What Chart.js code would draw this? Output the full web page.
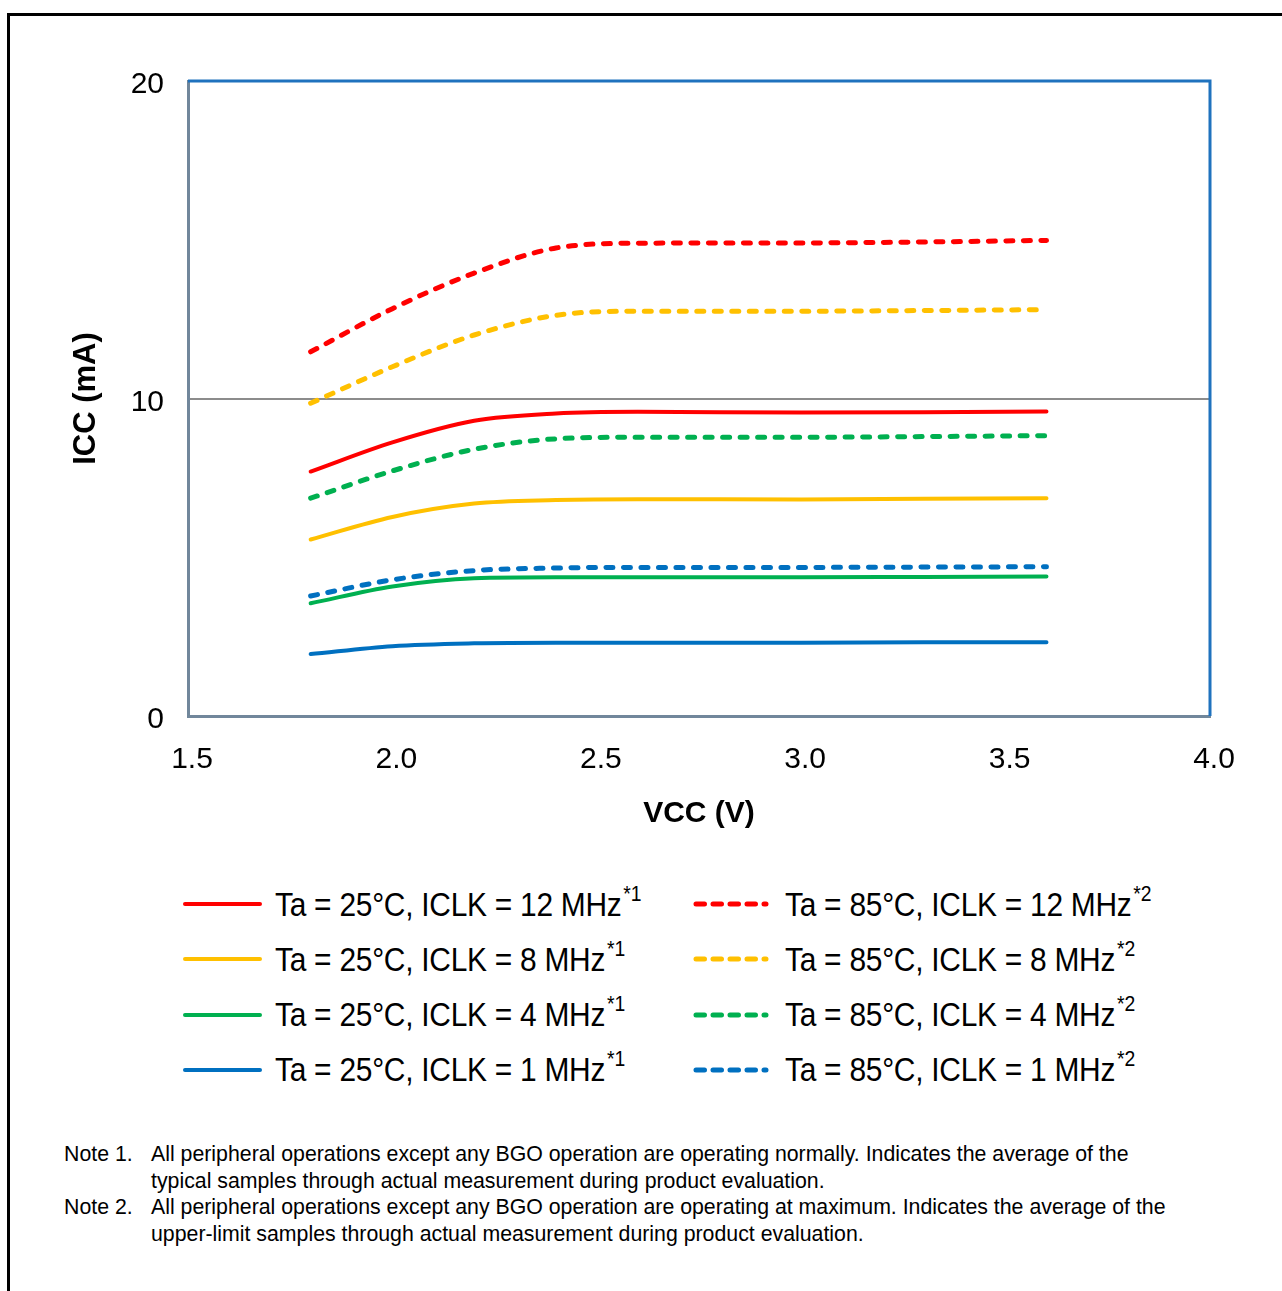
<!DOCTYPE html>
<html>
<head>
<meta charset="utf-8">
<script src="https://cdn.jsdelivr.net/npm/chart.js@4.4.0/dist/chart.umd.min.js"></script>
<style>
    body { margin: 0; background: #fff; font-family: "Liberation Sans", Arial, sans-serif; color: #000; }
    #page { position: relative; width: 1282px; height: 1291px; overflow: hidden; }
    #frame { position: absolute; left: 7px; top: 13px; width: 1300px; height: 1300px;
             border-top: 3px solid #000; border-left: 3px solid #000; }
    #chartBox { position: absolute; left: 0; top: 0; width: 1282px; height: 860px; }
    #legend { position: absolute; left: 0; top: 876px; width: 1282px; }
    .row { position: absolute; height: 56px; display: flex; align-items: center; white-space: nowrap; }
    .row canvas { margin-right: 11px; }
    .row .txt { display: inline-block; font-size: 34px; letter-spacing: -0.3px;
                transform: scaleX(0.88); transform-origin: left center; }
    .row sup { font-size: 22px; letter-spacing: 0; vertical-align: baseline; position: relative; top: -15px; margin-left: 2px; }
    #notes { position: absolute; left: 64px; top: 1141px; font-size: 21.3px; line-height: 26.7px; }
    #notes .n { display: flex; }
    #notes .lab { width: 87px; flex: none; }
</style>
</head>
<body>
<div id="page">
    <div id="frame"></div>
    <div id="chartBox"><canvas id="iccChart" width="1282" height="860"></canvas></div>
    <div id="legend"></div>
    <div id="notes">
        <div class="n"><div class="lab">Note 1.</div><div>All peripheral operations except any BGO operation are operating normally. Indicates the average of the<br>typical samples through actual measurement during product evaluation.</div></div>
        <div class="n"><div class="lab">Note 2.</div><div>All peripheral operations except any BGO operation are operating at maximum. Indicates the average of the<br>upper-limit samples through actual measurement during product evaluation.</div></div>
    </div>
</div>
<script>
// VCC (V) sample points
const vcc = [1.8, 2.0, 2.2, 2.4, 2.6, 3.0, 3.3, 3.6];

// ICC (mA)
const icc25_12 = [7.70, 8.62, 9.30, 9.53, 9.58, 9.56, 9.57, 9.59];
const icc25_8 = [5.56, 6.27, 6.69, 6.80, 6.83, 6.82, 6.84, 6.86];
const icc25_4 = [3.55, 4.08, 4.34, 4.37, 4.37, 4.37, 4.38, 4.39];
const icc25_1 = [1.95, 2.20, 2.29, 2.31, 2.31, 2.31, 2.32, 2.32];
const icc85_12 = [11.47, 12.83, 13.95, 14.74, 14.89, 14.90, 14.93, 14.98];
const icc85_8 = [9.85, 11.00, 12.00, 12.62, 12.75, 12.75, 12.77, 12.80];
const icc85_4 = [6.86, 7.72, 8.40, 8.73, 8.78, 8.78, 8.80, 8.83];
const icc85_1 = [3.78, 4.29, 4.58, 4.66, 4.68, 4.68, 4.69, 4.70];

const seriesLabels = [
    'Ta = 25°C, ICLK = 12 MHz', 'Ta = 25°C, ICLK = 8 MHz', 'Ta = 25°C, ICLK = 4 MHz', 'Ta = 25°C, ICLK = 1 MHz',
    'Ta = 85°C, ICLK = 12 MHz', 'Ta = 85°C, ICLK = 8 MHz', 'Ta = 85°C, ICLK = 4 MHz', 'Ta = 85°C, ICLK = 1 MHz'
];
const seriesNotes = ['*1', '*1', '*1', '*1', '*2', '*2', '*2', '*2'];

const xTicks = [1.5, 2.0, 2.5, 3.0, 3.5, 4.0];
const xTickLabels = ['1.5', '2.0', '2.5', '3.0', '3.5', '4.0'];
const yTicks = [0, 10, 20];
const yTickLabels = ['0', '10', '20'];

const RED = '#ff0000', YELLOW = '#ffc000', GREEN = '#00b050', BLUE = '#0070c0';
const DASH = [7, 10.5];

function series(label, values, color, dashed) {
    return {
        label: label,
        data: values.map((v, i) => ({ x: vcc[i], y: v })),
        borderColor: color,
        backgroundColor: color,
        borderWidth: dashed ? 5 : 4,
        borderDash: dashed ? DASH : [],
        borderCapStyle: 'round',
        borderJoinStyle: 'round',
        cubicInterpolationMode: 'monotone',
        pointRadius: 0,
        fill: false
    };
}

const datasets = [
    series(seriesLabels[0], icc25_12, RED, false),
    series(seriesLabels[1], icc25_8, YELLOW, false),
    series(seriesLabels[2], icc25_4, GREEN, false),
    series(seriesLabels[3], icc25_1, BLUE, false),
    series(seriesLabels[4], icc85_12, RED, true),
    series(seriesLabels[5], icc85_8, YELLOW, true),
    series(seriesLabels[6], icc85_4, GREEN, true),
    series(seriesLabels[7], icc85_1, BLUE, true)
];

// blue top and right edges of the plot area
const plotFrame = {
    id: 'plotFrame',
    afterDraw(chart) {
        const { ctx, chartArea: a } = chart;
        ctx.save();
        ctx.strokeStyle = '#1f72be';
        ctx.lineWidth = 3;
        ctx.beginPath();
        ctx.moveTo(a.left, a.top);
        ctx.lineTo(a.right, a.top);
        ctx.lineTo(a.right, a.bottom);
        ctx.stroke();
        ctx.restore();
    }
};

const chart = new Chart(document.getElementById('iccChart'), {
    type: 'line',
    data: { datasets: datasets },
    plugins: [plotFrame],
    options: {
        responsive: false,
        animation: false,
        layout: { padding: { top: 81, right: 72, bottom: 0, left: 0 } },
        plugins: { legend: { display: false }, tooltip: { enabled: false } },
        scales: {
            x: {
                type: 'linear',
                min: 1.5,
                max: 4.0,
                afterFit: (s) => { s.height = 144; },
                afterBuildTicks: (s) => { s.ticks = xTicks.map(v => ({ value: v })); },
                grid: { display: false, drawTicks: false },
                border: { display: true, color: '#71879b', width: 3 },
                ticks: {
                    autoSkip: false,
                    maxRotation: 0,
                    padding: 26,
                    labelOffset: 4,
                    color: '#000',
                    font: { family: 'Liberation Sans, Arial', size: 30 },
                    callback: (v, i) => xTickLabels[i]
                },
                title: {
                    display: true,
                    text: 'VCC (V)',
                    color: '#000',
                    font: { family: 'Liberation Sans, Arial', size: 30, weight: 'bold' },
                    padding: { top: 0, bottom: 28 }
                }
            },
            y: {
                min: 0,
                max: 20,
                afterFit: (s) => { s.width = 188; },
                afterBuildTicks: (s) => { s.ticks = yTicks.map(v => ({ value: v })); },
                grid: {
                    drawTicks: false,
                    lineWidth: 2,
                    color: (c) => (c.tick && c.tick.value === 10) ? '#8c8c8c' : 'rgba(0,0,0,0)'
                },
                border: { display: true, color: '#71879b', width: 3 },
                ticks: {
                    padding: 24,
                    labelOffset: 4,
                    color: '#000',
                    font: { family: 'Liberation Sans, Arial', size: 30 },
                    callback: (v, i) => yTickLabels[i]
                },
                title: {
                    display: true,
                    text: 'ICC (mA)',
                    color: '#000',
                    font: { family: 'Liberation Sans, Arial', size: 31, weight: 'bold' },
                    padding: { top: 68, bottom: 0 }
                }
            }
        }
    }
});

// HTML legend built from the chart datasets
function renderLegend() {
    const box = document.getElementById('legend');
    const colLeft = [183, 693];
    const rowH = 55.3;
    chart.data.datasets.forEach((ds, i) => {
        const col = i < 4 ? 0 : 1;
        const row = i % 4;
        const div = document.createElement('div');
        div.className = 'row';
        div.style.left = colLeft[col] + 'px';
        div.style.top = (row * rowH) + 'px';

        const sw = document.createElement('canvas');
        sw.width = 81; sw.height = 10;
        const c = sw.getContext('2d');
        c.strokeStyle = ds.borderColor;
        c.lineCap = 'round';
        c.beginPath();
        if (ds.borderDash.length) {
            c.lineWidth = 5;
            c.setLineDash([8.5, 8.5]);
            c.moveTo(3, 5);
            c.lineTo(73, 5);
        } else {
            c.lineWidth = 4;
            c.moveTo(2, 5);
            c.lineTo(77, 5);
        }
        c.stroke();
        div.appendChild(sw);

        const t = document.createElement('span');
        t.className = 'txt';
        t.textContent = ds.label;
        const sup = document.createElement('sup');
        sup.textContent = seriesNotes[i];
        t.appendChild(sup);
        div.appendChild(t);
        box.appendChild(div);
    });
}
renderLegend();
</script>
</body>
</html>
